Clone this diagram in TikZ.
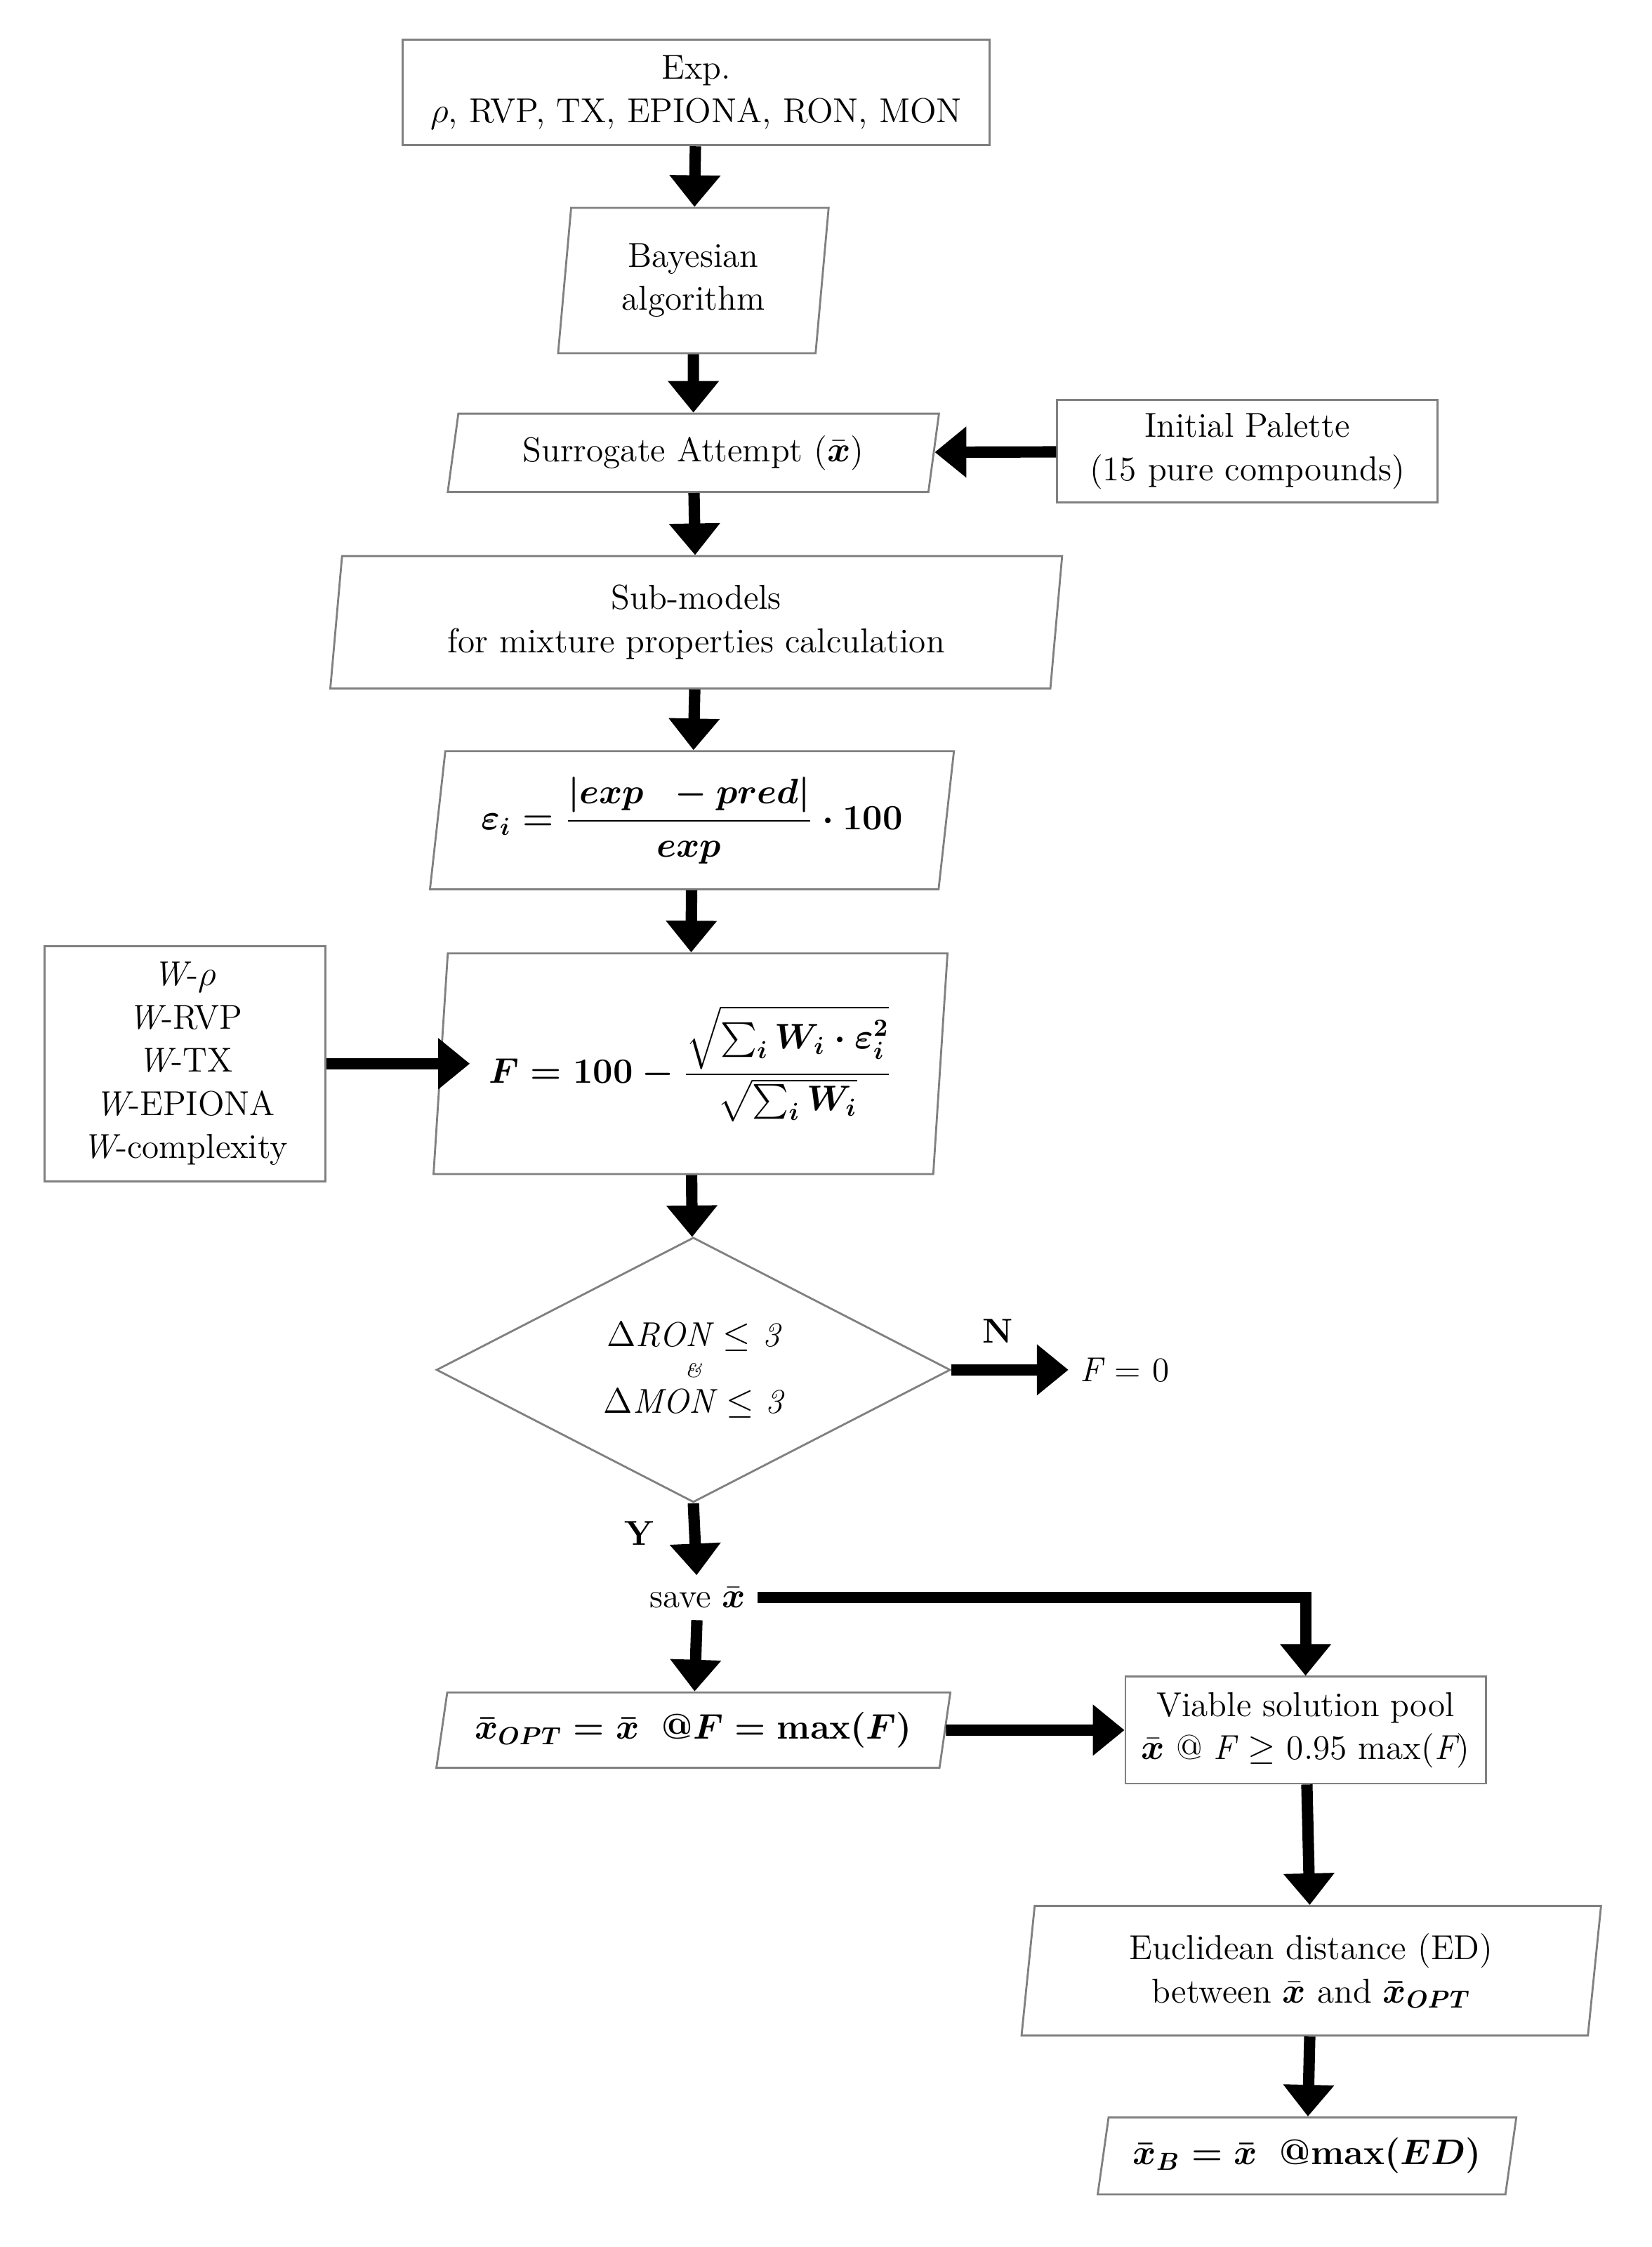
\documentclass[tikz,border=0pt]{standalone}
\usepackage{amsmath,amssymb}
\usetikzlibrary{shapes.geometric,arrows.meta}
\begin{document}
\fontsize{14}{17.5}\selectfont
\begin{tikzpicture}[x=0.02028cm,y=-0.02028cm,
  box/.style={draw=gray,line width=0.8pt,align=center,inner sep=0pt},
  par/.style={box,trapezium,trapezium left angle=#1,trapezium right angle=180-#1,trapezium stretches body},
  arr/.style={line width=4.6pt,line join=miter,-{Triangle[length=0.45cm,width=0.7cm]}}]
\useasboundingbox (0,0) rectangle (1160,1578);
\node[box,minimum width=412*0.02028cm,minimum height=74*0.02028cm] (exp) at (489,65) {Exp.\\$\rho$, RVP, TX, EPIONA, RON, MON};
\node[par=80,minimum width=190*0.02028cm,minimum height=102*0.02028cm] (bay) at (487,197) {Bayesian\\algorithm};
\node[par=73,minimum width=345*0.02028cm,minimum height=55*0.02028cm] (sur) at (487,318) {Surrogate Attempt ($\bar{\boldsymbol{x}}$)};
\node[box,minimum width=267*0.02028cm,minimum height=72*0.02028cm] (pal) at (876,317) {Initial Palette\\(15 pure compounds)};
\node[par=81,minimum width=514*0.02028cm,minimum height=93*0.02028cm] (sub) at (489,437) {Sub-models\\for mixture properties calculation};
\node[par=80,minimum width=368*0.02028cm,minimum height=97*0.02028cm] (eps) at (486,576) {$\boldsymbol{\varepsilon_i=\dfrac{|exp\ \ -pred|}{exp}\cdot 100}$};
\node[box,minimum width=197*0.02028cm,minimum height=165*0.02028cm] (w) at (130,747) {\itshape W\upshape-$\rho$\\\itshape W\upshape-RVP\\\itshape W\upshape-TX\\\itshape W\upshape-EPIONA\\\itshape W\upshape-complexity};
\node[par=83,minimum width=361*0.02028cm,minimum height=155*0.02028cm] (f) at (485,747) {$\boldsymbol{F=100-\dfrac{\sqrt{\sum_i W_i\cdot\varepsilon_i^2}}{\sqrt{\sum_i W_i}}}$};
\node[box,diamond,aspect=1.94,minimum width=361*0.02028cm,minimum height=186*0.02028cm] (dia) at (487,962) {};
\node[align=center] (dtext) at (487,962) {\itshape $\Delta$RON $\leq$ 3\\[-5pt]{\footnotesize\itshape\&}\\[-3pt]\itshape $\Delta$MON $\leq$ 3};
\node (f0) at (790,962) {\itshape F \upshape= 0};
\node (nlab) at (701,935) {\bfseries N};
\node (ylab) at (449,1077) {\bfseries Y};
\node (save) at (490,1122) {save $\bar{\boldsymbol{x}}$};
\node[par=73,minimum width=361*0.02028cm,minimum height=53*0.02028cm] (opt) at (487,1215) {$\boldsymbol{\bar{x}_{OPT}=\bar{x}\ \ @F=\mathrm{max}(F)}$};
\node[box,minimum width=253*0.02028cm,minimum height=75*0.02028cm] (via) at (917,1215) {Viable solution pool\\$\bar{\boldsymbol{x}}$ @ \itshape F \upshape$\geq$ 0.95 max(\itshape F\upshape)};
\node[par=80,minimum width=407*0.02028cm,minimum height=91*0.02028cm] (euc) at (921,1384) {Euclidean distance (ED)\\between $\bar{\boldsymbol{x}}$ and $\boldsymbol{\bar{x}_{OPT}}$};
\node[par=73,minimum width=294*0.02028cm,minimum height=54*0.02028cm] (xb) at (918,1514) {$\boldsymbol{\bar{x}_B=\bar{x}\ \ @\mathrm{max}(ED)}$};
\coordinate (tr) at (917,1122);
\draw[arr] (exp) -- (bay);
\draw[arr] (bay) -- (sur);
\draw[arr] (pal) -- (sur);
\draw[arr] (sur) -- (sub);
\draw[arr] (sub) -- (eps);
\draw[arr] (eps) -- (f);
\draw[arr] (w.east) -- (330,747);
\draw[arr] (f) -- (dia);
\draw[arr] (dia.east) -- (f0.west);
\draw[arr] (dia.south) -- (save);
\draw[arr] (save) -- (opt);
\draw[arr] (save.east) -- (tr) -- (via.north);
\draw[arr] (opt) -- (via);
\draw[arr] (via) -- (euc);
\draw[arr] (euc) -- (xb);
\end{tikzpicture}
\end{document}
